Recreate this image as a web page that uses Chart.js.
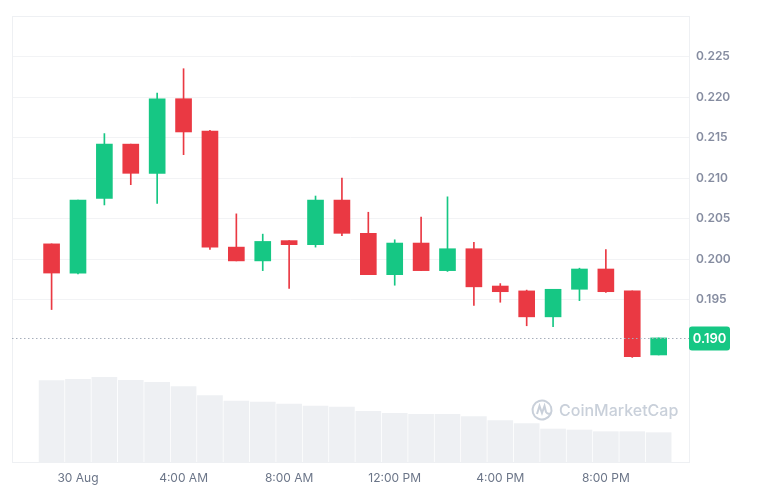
<!DOCTYPE html>
<html>
<head>
<meta charset="utf-8">
<script src="https://cdn.jsdelivr.net/npm/chart.js@4.4.0/dist/chart.umd.min.js"></script>
<style>
  html, body { margin: 0; padding: 0; background: #ffffff; }
  #wrap { width: 768px; height: 490px; }
</style>
</head>
<body>
<div id="wrap"><canvas id="chart" width="768" height="490"></canvas></div>
<script>
// hourly candles, 29 Aug 11 PM -> 30 Aug 10 PM
const hours = [
  '11:00 PM', '30 Aug', '1:00 AM', '2:00 AM', '3:00 AM', '4:00 AM', '5:00 AM', '6:00 AM',
  '7:00 AM', '8:00 AM', '9:00 AM', '10:00 AM', '11:00 AM', '12:00 PM', '1:00 PM', '2:00 PM',
  '3:00 PM', '4:00 PM', '5:00 PM', '6:00 PM', '7:00 PM', '8:00 PM', '9:00 PM', '10:00 PM'
];
const opens  = [0.2019, 0.1983, 0.2075, 0.2142, 0.2106, 0.2198, 0.2158, 0.2015, 0.1998, 0.2023, 0.2018, 0.2073,
                0.2032, 0.1981, 0.2020, 0.1986, 0.2013, 0.1967, 0.1961, 0.1929, 0.1963, 0.1988, 0.1961, 0.1882];
const closes = [0.1983, 0.2073, 0.2142, 0.2106, 0.2198, 0.2157, 0.2015, 0.1998, 0.2022, 0.2018, 0.2073, 0.2032,
                0.1981, 0.2020, 0.1986, 0.2013, 0.1966, 0.1960, 0.1929, 0.1963, 0.1988, 0.1960, 0.1880, 0.1903];
const highs  = [0.2019, 0.2073, 0.2155, 0.2142, 0.2205, 0.2235, 0.2159, 0.2056, 0.2031, 0.2023, 0.2078, 0.2100,
                0.2058, 0.2024, 0.2052, 0.2077, 0.2021, 0.1970, 0.1962, 0.1963, 0.1989, 0.2012, 0.1961, 0.1903];
const lows   = [0.1938, 0.1982, 0.2067, 0.2092, 0.2069, 0.2129, 0.2012, 0.1998, 0.1986, 0.1964, 0.2015, 0.2029,
                0.1981, 0.1968, 0.1986, 0.1985, 0.1943, 0.1947, 0.1918, 0.1917, 0.1949, 0.1959, 0.1879, 0.1882];
// volume, millions (relative bar heights)
const volumes = [8.13, 8.27, 8.47, 8.17, 7.97, 7.53, 6.63, 6.10, 6.00, 5.80, 5.60, 5.50,
                 5.07, 4.87, 4.77, 4.77, 4.53, 4.13, 3.83, 3.30, 3.20, 3.03, 3.03, 2.93];
const xTickIdx = [1, 5, 9, 13, 17, 21];
const priceMin = 0.175, priceMax = 0.230, priceStep = 0.005;

const GREEN = '#16c784';
const RED = '#ea3943';
const candleColor = (i) => closes[i] >= opens[i] ? GREEN : RED;

const bodies = opens.map((o, i) => ({ x: i, y: [o, closes[i]] }));
const wicks = lows.map((l, i) => ({ x: i, y: [l, highs[i]] }));
const vols = volumes.map((v, i) => ({ x: i, y: v }));
const colors = opens.map((o, i) => candleColor(i));

// frame around plot area
const framePlugin = {
  id: 'frame',
  beforeDatasetsDraw(chart) {
    const a = chart.chartArea, ctx = chart.ctx;
    ctx.save();
    ctx.strokeStyle = '#eef0f3';
    ctx.lineWidth = 1;
    ctx.strokeRect(a.left + 0.5, a.top + 0.5, a.right - a.left, a.bottom - a.top);
    ctx.restore();
  }
};

// watermark
const watermarkPlugin = {
  id: 'watermark',
  afterDatasetsDraw(chart) {
    const ctx = chart.ctx;
    ctx.save();
    ctx.strokeStyle = '#c9d0da';
    ctx.fillStyle = '#c9d0da';
    ctx.lineWidth = 2;
    const cx = 542, cy = 410, r = 9.5;
    ctx.beginPath();
    ctx.arc(cx, cy, r, 0.15 * Math.PI, 2.35 * Math.PI);
    ctx.stroke();
    ctx.beginPath();
    ctx.moveTo(cx - 5, cy + 4);
    ctx.lineTo(cx - 2.5, cy - 4);
    ctx.lineTo(cx, cy + 3);
    ctx.lineTo(cx + 2.5, cy - 4);
    ctx.lineTo(cx + 4, cy + 2);
    ctx.quadraticCurveTo(cx + 6, cy + 5, cx + 9, cy + 3);
    ctx.stroke();
    ctx.font = '500 16px Inter';
    ctx.textBaseline = 'middle';
    ctx.fillText('CoinMarketCap', 559, 411);
    ctx.restore();
  }
};

// current price dotted line + tag
const pricePlugin = {
  id: 'priceTag',
  afterDraw(chart) {
    const a = chart.chartArea, ctx = chart.ctx;
    const last = closes[closes.length - 1];
    const y = Math.round(chart.scales.y.getPixelForValue(last)) + 0.5;
    ctx.save();
    ctx.strokeStyle = '#a6aebb';
    ctx.lineWidth = 1;
    ctx.setLineDash([1.5, 2.5]);
    ctx.beginPath();
    ctx.moveTo(a.left, y);
    ctx.lineTo(a.right, y);
    ctx.stroke();
    ctx.setLineDash([]);
    const bx = a.right, bw = 41, bh = 24;
    ctx.fillStyle = GREEN;
    ctx.beginPath();
    ctx.roundRect(bx, y - bh / 2, bw, bh, 3);
    ctx.fill();
    ctx.fillStyle = '#ffffff';
    ctx.font = '600 13px Inter';
    ctx.textAlign = 'center';
    ctx.textBaseline = 'middle';
    ctx.fillText(last.toFixed(3), bx + bw / 2, y + 0.5);
    ctx.restore();
  }
};

new Chart(document.getElementById('chart'), {
  type: 'bar',
  data: {
    datasets: [
      {
        label: 'Volume',
        data: vols,
        yAxisID: 'v',
        backgroundColor: '#eef0f3',
        barThickness: 25,
        grouped: false,
        order: 3
      },
      {
        label: 'Wick',
        data: wicks,
        yAxisID: 'y',
        backgroundColor: colors,
        barThickness: 1,
        grouped: false,
        order: 2
      },
      {
        label: 'Body',
        data: bodies,
        yAxisID: 'y',
        backgroundColor: colors,
        barThickness: 16,
        minBarLength: 2,
        grouped: false,
        order: 1
      }
    ]
  },
  options: {
    responsive: false,
    animation: false,
    layout: { padding: { left: 12, top: 16, right: 0, bottom: 0 } },
    plugins: {
      legend: { display: false },
      tooltip: { enabled: false }
    },
    scales: {
      x: {
        type: 'linear',
        offset: false,
        min: -1.5,
        max: 24.15,
        grid: { display: false, drawTicks: false, offset: false },
        border: { display: false },
        afterBuildTicks: (scale) => { scale.ticks = xTickIdx.map(v => ({ value: v })); },
        afterFit: (scale) => { scale.height = 28; },
        ticks: {
          autoSkip: false,
          maxRotation: 0,
          padding: 9,
          color: '#6b7588',
          font: { family: 'Inter', size: 12 },
          callback: (v) => hours[v] || ''
        }
      },
      y: {
        position: 'right',
        min: priceMin,
        max: priceMax,
        grid: {
          drawTicks: false,
          color: (c) => (c.tick && c.tick.value > 0.1949 && c.tick.value < 0.2251) ? '#f2f3f5' : 'rgba(0,0,0,0)'
        },
        border: { display: false },
        afterFit: (scale) => { scale.width = 79; },
        ticks: {
          stepSize: priceStep,
          padding: 7,
          color: '#858ca0',
          font: { family: 'Inter', size: 12, weight: '600' },
          callback: (v) => (v > 0.1949 && v < 0.2251) ? v.toFixed(3) : ''
        }
      },
      v: {
        display: false,
        min: 0,
        max: 44.6
      }
    }
  },
  plugins: [framePlugin, watermarkPlugin, pricePlugin]
});
</script>
</body>
</html>
